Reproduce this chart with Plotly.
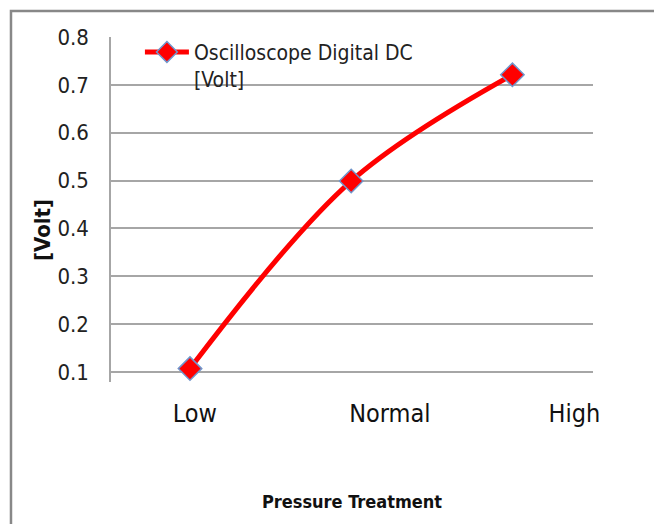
import plotly.graph_objects as go

categories = ["Low", "Normal", "High"]
positions = [0, 1, 2]
label_positions = [0.03, 1.24, 2.385]
values = [0.107, 0.499, 0.721]
series_name = "Oscilloscope Digital DC<br>[Volt]"
y_ticks = [0.1, 0.2, 0.3, 0.4, 0.5, 0.6, 0.7, 0.8]
y_title = "[Volt]"
x_title = "Pressure Treatment"

FONT = "DejaVu Sans Condensed, Liberation Sans Narrow, sans-serif"

fig = go.Figure()
fig.add_trace(go.Scatter(
    x=positions, y=values, name=series_name, mode="lines+markers",
    line=dict(color="#ff0000", width=5, shape="spline", smoothing=1),
    marker=dict(symbol="diamond", size=18, color="#ff0000",
                line=dict(color="#7096cc", width=1.5)),
))

fig.update_layout(
    width=654, height=524,
    margin=dict(l=111, r=61, t=37, b=142),
    paper_bgcolor="white", plot_bgcolor="white",
    font=dict(family=FONT, color="#222222", size=21),
    showlegend=True,
    legend=dict(x=0.06, y=1.015, xanchor="left", yanchor="top",
                bgcolor="rgba(0,0,0,0)", font=dict(size=21, family=FONT, color="#222222"),
                valign="top", itemwidth=44, tracegroupgap=0),
    xaxis=dict(range=[-0.49, 2.5], tickvals=label_positions, ticktext=categories,
               showgrid=False, zeroline=False, showline=False, ticks="",
               ticklabelstandoff=14, tickfont=dict(size=25, family=FONT, color="#111111"),
               title=dict(text="<b>" + x_title + "</b>", standoff=68,
                          font=dict(size=18, family=FONT, color="#111111"))),
    yaxis=dict(range=[0.079, 0.8], tickvals=y_ticks, tickformat=".1f",
               showgrid=True, gridcolor="#a6a6a6", gridwidth=1.5,
               zeroline=False, showline=True, linecolor="#a6a6a6", linewidth=1.5,
               ticks="", ticklabelstandoff=16,
               tickfont=dict(size=22, family=FONT, color="#222222")),
    annotations=[dict(text="<b>" + y_title + "</b>", xref="paper", yref="paper",
                      x=-0.141, y=0.4406, xanchor="center", yanchor="middle",
                      textangle=-90, showarrow=False,
                      font=dict(size=22, family=FONT, color="#111111"))],
    shapes=[dict(type="rect", xref="paper", yref="paper",
                 x0=-0.2075, y0=-3, x1=3, y1=1.0754,
                 line=dict(color="#888888", width=2.5), fillcolor="rgba(0,0,0,0)",
                 layer="below")],
)

fig.write_html("out.html", config={"displayModeBar": False},
               post_script="document.body.style.margin='0';")
